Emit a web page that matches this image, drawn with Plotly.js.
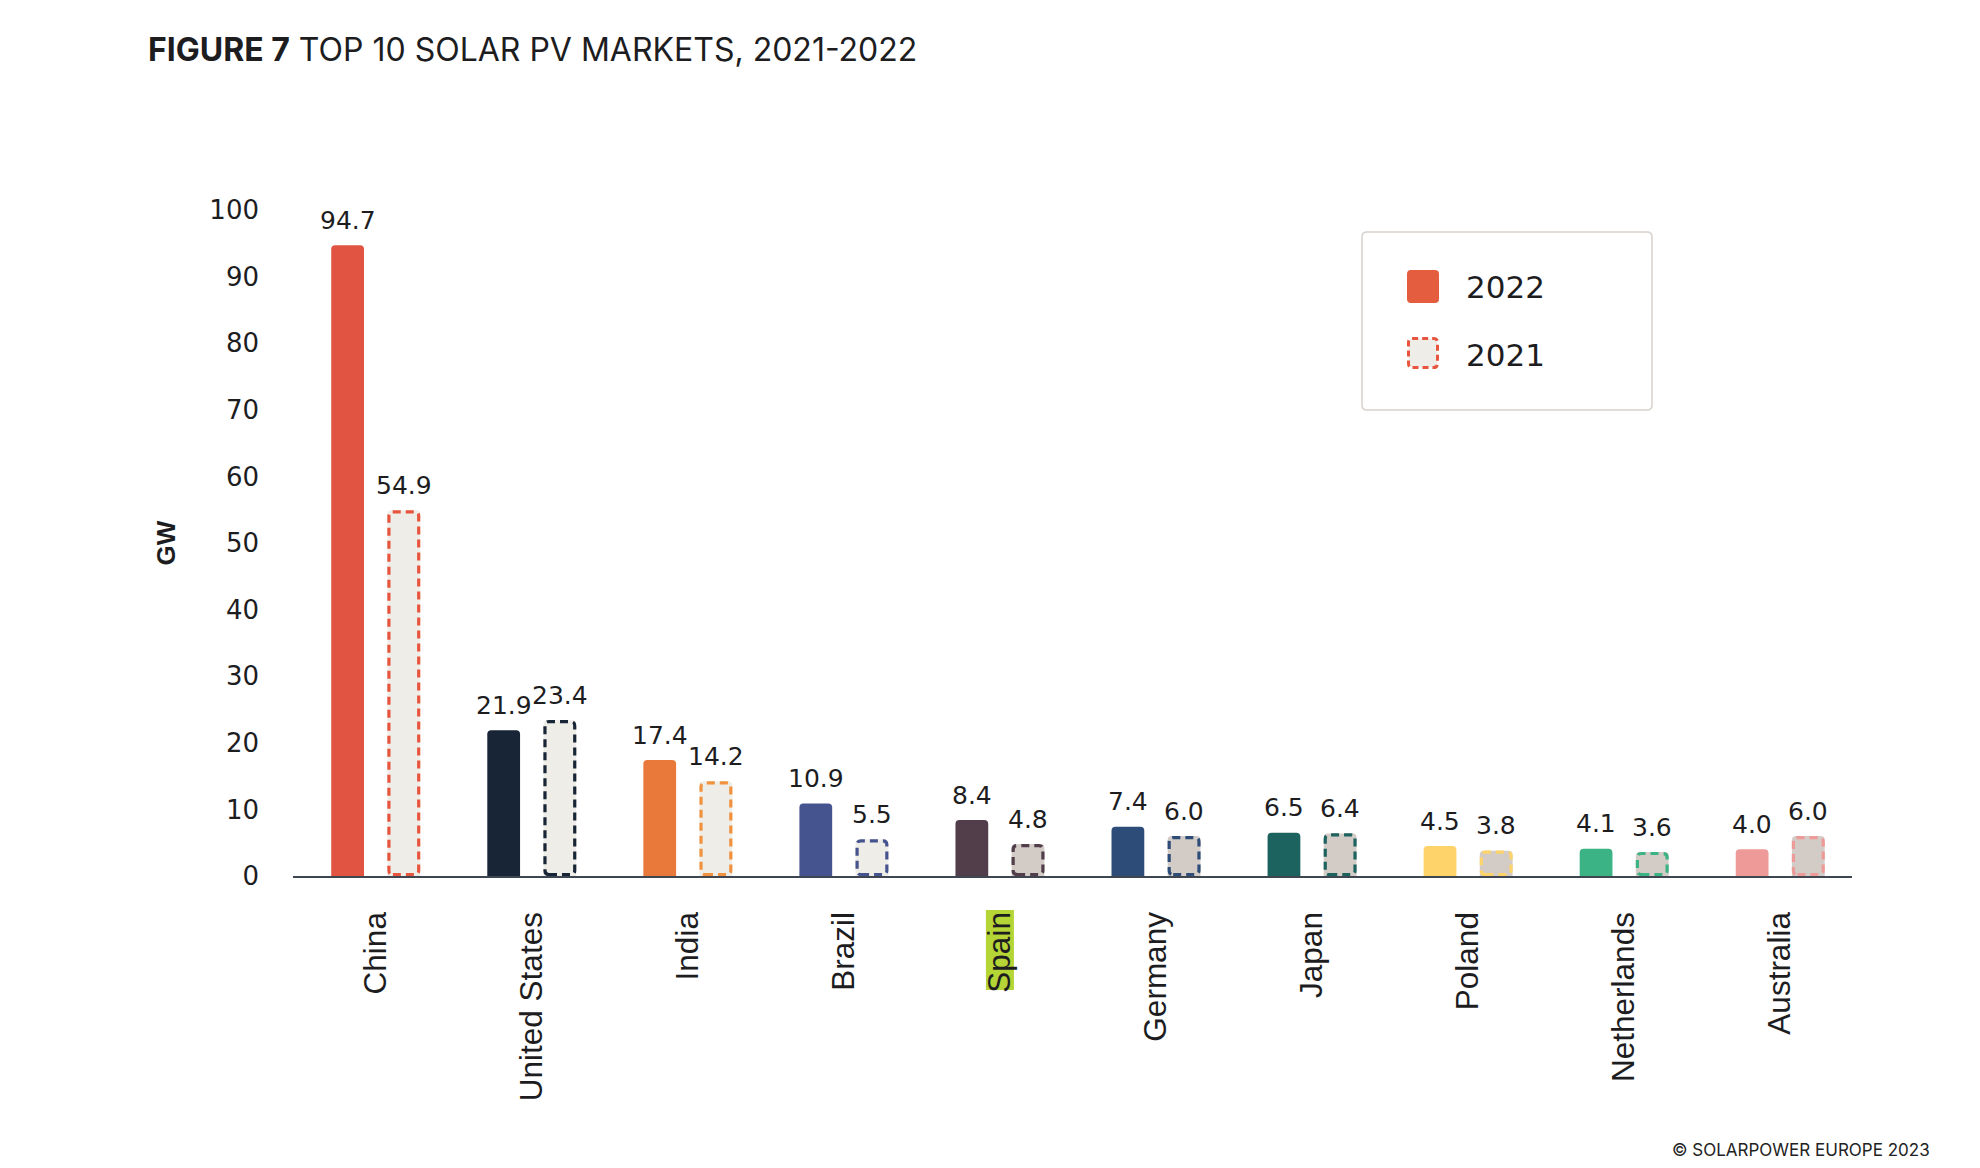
<!DOCTYPE html>
<html><head><meta charset="utf-8">
<script src="https://cdn.plot.ly/plotly-3.0.1.min.js"></script>
<style>html,body{margin:0;padding:0;background:#fff}</style>
</head><body>
<div id="chart" style="width:1980px;height:1168px"></div>
<script>
// ---- data ----
const countries = ['China','United States','India','Brazil','Spain','Germany','Japan','Poland','Netherlands','Australia'];
const gw2022 = [94.7, 21.9, 17.4, 10.9, 8.4, 7.4, 6.5, 4.5, 4.1, 4.0];
const gw2021 = [54.9, 23.4, 14.2, 5.5, 4.8, 6.0, 6.4, 3.8, 3.6, 6.0];
const yTickVals = [0, 10, 20, 30, 40, 50, 60, 70, 80, 90, 100];
const seriesNames = ['2022', '2021'];
const highlightCountry = 'Spain';

// ---- styles ----
const colors2022 = ['#E05441','#172536','#E8793A','#45538F','#513E4A','#2D4D78','#1C625E','#FDD36A','#3BB385','#EE9A98'];
const fill2021 = ['#EEEDE7','#EEEDE7','#EEEDE7','#EEEDE7','#D3CBC6','#D3CBC6','#D3CBC6','#D3CBC6','#D3CBC6','#D3CBC6'];
const outline2021 = ['#E8553E','#172536','#F0923F','#45538F','#513E4A','#2D4D78','#1C625E','#FDD36A','#3BB385','#EE9A98'];

const W = 1980, H = 1168;
const M = {l: 293, r: 128, t: 210, b: 292};
const XR = [-0.53, 9.46], YR = [0, 100];
const plotW = W - M.l - M.r, plotH = H - M.t - M.b;
const pxPerX = plotW / (XR[1] - XR[0]);
const pxPerY = plotH / (YR[1] - YR[0]);
const BW = 0.21, OFF22 = -0.285, OFF21 = 0.075;
const numFont = 'DejaVu Sans, sans-serif';
const txtFont = 'Liberation Sans, Arial, sans-serif';
const ink = '#1d1d1f';

const idx = countries.map((c, i) => i);

const traces = [
  {
    type: 'bar', name: seriesNames[0], x: countries, y: gw2022,
    offset: OFF22, width: BW,
    marker: {color: colors2022, cornerradius: 4, line: {width: 0}},
    hoverinfo: 'x+y', showlegend: false
  },
  {
    type: 'bar', name: seriesNames[1], x: countries, y: gw2021,
    offset: OFF21, width: BW,
    marker: {color: fill2021, cornerradius: 4, line: {width: 0}},
    hoverinfo: 'x+y', showlegend: false
  }
];

// rounded rectangle path in data coords
function rrPath(x0, x1, y0, y1, rx, ry) {
  ry = Math.min(ry, (y1 - y0) / 2);
  return `M${x0 + rx},${y0} L${x1 - rx},${y0} Q${x1},${y0} ${x1},${y0 + ry} L${x1},${y1 - ry} Q${x1},${y1} ${x1 - rx},${y1} L${x0 + rx},${y1} Q${x0},${y1} ${x0},${y1 - ry} L${x0},${y0 + ry} Q${x0},${y0} ${x0 + rx},${y0} Z`;
}

const shapes = [];
// dashed outlines for 2021 bars
const insetX = 1.5 / pxPerX, insetY = 1.5 / pxPerY;
idx.forEach(i => {
  const x0 = i + OFF21 + insetX, x1 = i + OFF21 + BW - insetX;
  const y0 = 0 + insetY, y1 = gw2021[i] - insetY;
  shapes.push({
    type: 'path', xref: 'x', yref: 'y', layer: 'above',
    path: rrPath(x0, x1, y0, y1, 4 / pxPerX, 4 / pxPerY),
    line: {color: outline2021[i], width: 3.2, dash: '8px,5px'},
    fillcolor: 'rgba(0,0,0,0)'
  });
});

// highlight behind the Spain tick label
const hi = countries.indexOf(highlightCountry);
const px2x = px => (px - M.l) / plotW;
const py2y = py => (H - M.b - py) / plotH;
shapes.push({
  type: 'rect', xref: 'x', yref: 'paper', layer: 'below',
  x0: hi - 14 / pxPerX, x1: hi + 14 / pxPerX,
  y0: py2y(910), y1: py2y(990),
  fillcolor: '#B5D436', line: {width: 0}
});

// manual legend (paper coords)
function rrPaper(x0, x1, y0, y1, r) {
  const X0 = px2x(x0), X1 = px2x(x1), Y0 = py2y(y1), Y1 = py2y(y0);
  const rx = r / plotW, ry = r / plotH;
  return rrPath(X0, X1, Y0, Y1, rx, ry);
}
shapes.push({type: 'path', xref: 'paper', yref: 'paper', layer: 'above',
  path: rrPaper(1362, 1652, 232, 410, 5), line: {color: '#D8D1CC', width: 1.5}, fillcolor: '#FFFFFF'});
shapes.push({type: 'path', xref: 'paper', yref: 'paper', layer: 'above',
  path: rrPaper(1407, 1439, 270, 303, 4), line: {width: 0}, fillcolor: '#E45D3E'});
shapes.push({type: 'path', xref: 'paper', yref: 'paper', layer: 'above',
  path: rrPaper(1408.5, 1437.5, 338.5, 367.5, 4), line: {color: '#E8553E', width: 3, dash: '6px,4px'}, fillcolor: '#EEEDE7'});

const annotations = [];
idx.forEach(i => {
  annotations.push({xref: 'x', yref: 'y', x: i + OFF22 + BW / 2, y: gw2022[i], text: gw2022[i].toFixed(1),
    showarrow: false, yanchor: 'middle', yshift: 25, font: {family: numFont, size: 25, color: ink}});
  annotations.push({xref: 'x', yref: 'y', x: i + OFF21 + BW / 2, y: gw2021[i], text: gw2021[i].toFixed(1),
    showarrow: false, yanchor: 'middle', yshift: 25, font: {family: numFont, size: 25, color: ink}});
});
annotations.push({xref: 'paper', yref: 'paper', x: px2x(1464), y: py2y(287), xanchor: 'left', yanchor: 'middle',
  text: seriesNames[0], showarrow: false, font: {family: numFont, size: 31, color: ink}});
annotations.push({xref: 'paper', yref: 'paper', x: px2x(1464), y: py2y(355), xanchor: 'left', yanchor: 'middle',
  text: seriesNames[1], showarrow: false, font: {family: numFont, size: 31, color: ink}});
annotations.push({xref: 'paper', yref: 'paper', x: px2x(1932), y: py2y(1150), xanchor: 'right', yanchor: 'middle',
  text: '© SOLARPOWER EUROPE 2023', showarrow: false, font: {family: 'Inter, sans-serif', size: 17, color: '#222'}});

const layout = {
  width: W, height: H,
  margin: M,
  paper_bgcolor: '#FFFFFF', plot_bgcolor: '#FFFFFF',
  barmode: 'overlay',
  title: {
    text: '<b>FIGURE 7</b> TOP 10 SOLAR PV MARKETS, 2021-2022',
    x: 148 / W, xanchor: 'left', xref: 'container',
    y: 1 - 50 / H, yanchor: 'middle', yref: 'container',
    font: {family: 'Inter, sans-serif', size: 32, color: ink}
  },
  xaxis: {
    type: 'category', range: XR, fixedrange: true,
    showgrid: false, zeroline: false,
    showline: true, linecolor: '#3E4651', linewidth: 1.5,
    ticks: '', tickangle: -90, ticklabelstandoff: 22,
    tickfont: {family: txtFont, size: 31.5, color: ink}
  },
  yaxis: {
    range: YR, fixedrange: true,
    tickvals: yTickVals, ticks: '', showgrid: false, zeroline: false, showline: false,
    ticklabelstandoff: 33,
    tickfont: {family: numFont, size: 26, color: ink},
    title: {text: '<b>GW</b>', standoff: 26, font: {family: txtFont, size: 26, color: ink}},
    automargin: true
  },
  shapes: shapes,
  annotations: annotations,
  showlegend: false
};

Plotly.newPlot('chart', traces, layout, {displayModeBar: false, staticPlot: true});
</script>
</body></html>
